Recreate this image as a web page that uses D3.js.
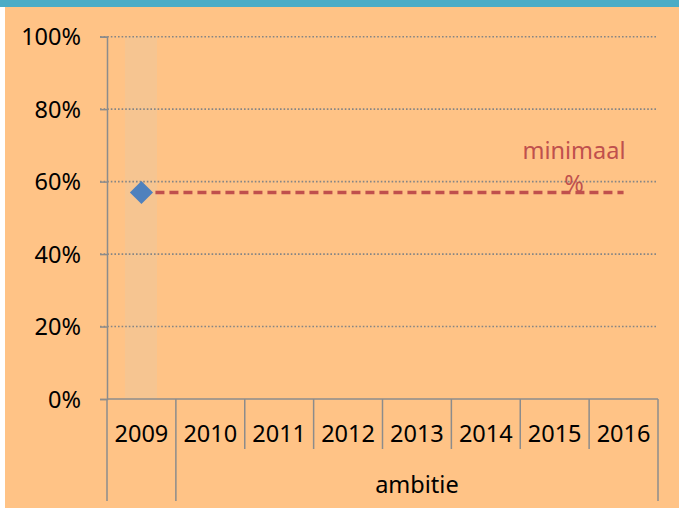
<!DOCTYPE html>
<html>
<head>
<meta charset="utf-8">
<script src="https://cdn.jsdelivr.net/npm/d3@7"></script>
<style>
  html, body { margin: 0; padding: 0; background: #ffffff; }
  svg { display: block; }
  text { font-family: "Noto Sans", sans-serif; }
</style>
</head>
<body>
<svg id="chart"></svg>
<script>
// data
const years = ['2009', '2010', '2011', '2012', '2013', '2014', '2015', '2016'];
const actual = [0.57];                       // only 2009 is measured
const minimaal = [0.57, 0.57, 0.57, 0.57, 0.57, 0.57, 0.57, 0.57];
const yTicks = [0, 0.2, 0.4, 0.6, 0.8, 1];
const groups = [
  { label: '', from: '2009', to: '2009' },
  { label: 'ambitie', from: '2010', to: '2016' }
];

const width = 679, height = 508;
const fontSize = '23.5px';
const svg = d3.select('#chart').attr('width', width).attr('height', height);

// frame: white page, teal top bar, orange panel
svg.append('rect').attr('width', width).attr('height', height).attr('fill', '#ffffff');
svg.append('rect').attr('x', 5).attr('y', 7).attr('width', width - 5).attr('height', height - 7).attr('fill', '#ffc386');
svg.append('rect').attr('width', width).attr('height', 7).attr('fill', '#4bacc6');

const x = d3.scaleBand().domain(years).range([107, 658]).padding(0);
const y = d3.scaleLinear().domain([0, 1]).range([399, 36.7]);

// lighter band behind the measured year
svg.append('rect')
  .attr('x', x('2009') + 18)
  .attr('y', y(1))
  .attr('width', 32)
  .attr('height', y(0) - y(1))
  .attr('fill', '#f6c591');

// dotted gridlines
svg.append('g')
  .selectAll('line')
  .data(yTicks.filter(d => d > 0))
  .enter()
  .append('line')
  .attr('x1', 100)
  .attr('x2', 658)
  .attr('y1', d => y(d))
  .attr('y2', d => y(d))
  .attr('stroke', '#858585')
  .attr('stroke-width', 1.6)
  .attr('stroke-dasharray', '1.6,2');

// y axis
const yAxis = svg.append('g')
  .attr('transform', 'translate(107,0)')
  .call(d3.axisLeft(y).tickValues(yTicks).tickFormat(d3.format('.0%')).tickSize(7).tickPadding(19));
yAxis.select('.domain').attr('stroke', '#8c8c8c').attr('stroke-width', 1.5);
yAxis.selectAll('.tick line').attr('stroke', '#8c8c8c').attr('stroke-width', 1.5);
yAxis.selectAll('.tick text')
  .attr('fill', '#000')
  .style('font-size', fontSize)
  .attr('dy', '0.35em');

// x axis line
svg.append('line')
  .attr('x1', 107).attr('x2', 658)
  .attr('y1', y(0)).attr('y2', y(0))
  .attr('stroke', '#8c8c8c').attr('stroke-width', 1.5);

// category separators: short inside a group, long at group edges
const edges = [];
groups.forEach(g => {
  edges.push(x(g.from));
});
edges.push(x(years[years.length - 1]) + x.bandwidth());

svg.append('g')
  .selectAll('line')
  .data(years.slice(1).map(d => x(d)).filter(v => edges.indexOf(v) < 0))
  .enter()
  .append('line')
  .attr('x1', d => d).attr('x2', d => d)
  .attr('y1', y(0)).attr('y2', 449)
  .attr('stroke', '#8c8c8c').attr('stroke-width', 1.5);

svg.append('g')
  .selectAll('line')
  .data(edges)
  .enter()
  .append('line')
  .attr('x1', d => d).attr('x2', d => d)
  .attr('y1', y(0)).attr('y2', 501)
  .attr('stroke', '#8c8c8c').attr('stroke-width', 1.5);

// year labels
svg.append('g')
  .selectAll('text')
  .data(years)
  .enter()
  .append('text')
  .text(d => d)
  .attr('x', d => x(d) + x.bandwidth() / 2)
  .attr('y', 442)
  .attr('text-anchor', 'middle')
  .style('font-size', fontSize)
  .attr('fill', '#000');

// group labels
svg.append('g')
  .selectAll('text')
  .data(groups.filter(g => g.label))
  .enter()
  .append('text')
  .text(g => g.label)
  .attr('x', g => (x(g.from) + x(g.to) + x.bandwidth()) / 2)
  .attr('y', 493)
  .attr('text-anchor', 'middle')
  .style('font-size', fontSize)
  .attr('fill', '#000');

// minimaal dashed line
const line = d3.line()
  .x((d, i) => x(years[i]) + x.bandwidth() / 2)
  .y(d => y(d));

svg.append('path')
  .datum(minimaal)
  .attr('d', line)
  .attr('fill', 'none')
  .attr('stroke', '#c0504d')
  .attr('stroke-width', 3.5)
  .attr('stroke-dasharray', '9,5');

// measured point as diamond
svg.append('g')
  .selectAll('path')
  .data(actual)
  .enter()
  .append('path')
  .attr('d', d3.symbol().type(d3.symbolDiamond2).size(340))
  .attr('transform', (d, i) => `translate(${x(years[i]) + x.bandwidth() / 2},${y(d)})`)
  .attr('fill', '#4f81bd');

// series label
const lab = svg.append('text')
  .attr('x', 574)
  .attr('y', 159)
  .attr('text-anchor', 'middle')
  .style('font-size', fontSize)
  .attr('fill', '#c0504d');
lab.append('tspan').attr('x', 574).text('minimaal');
lab.append('tspan').attr('x', 574).attr('y', 192).text('%');
</script>
</body>
</html>
